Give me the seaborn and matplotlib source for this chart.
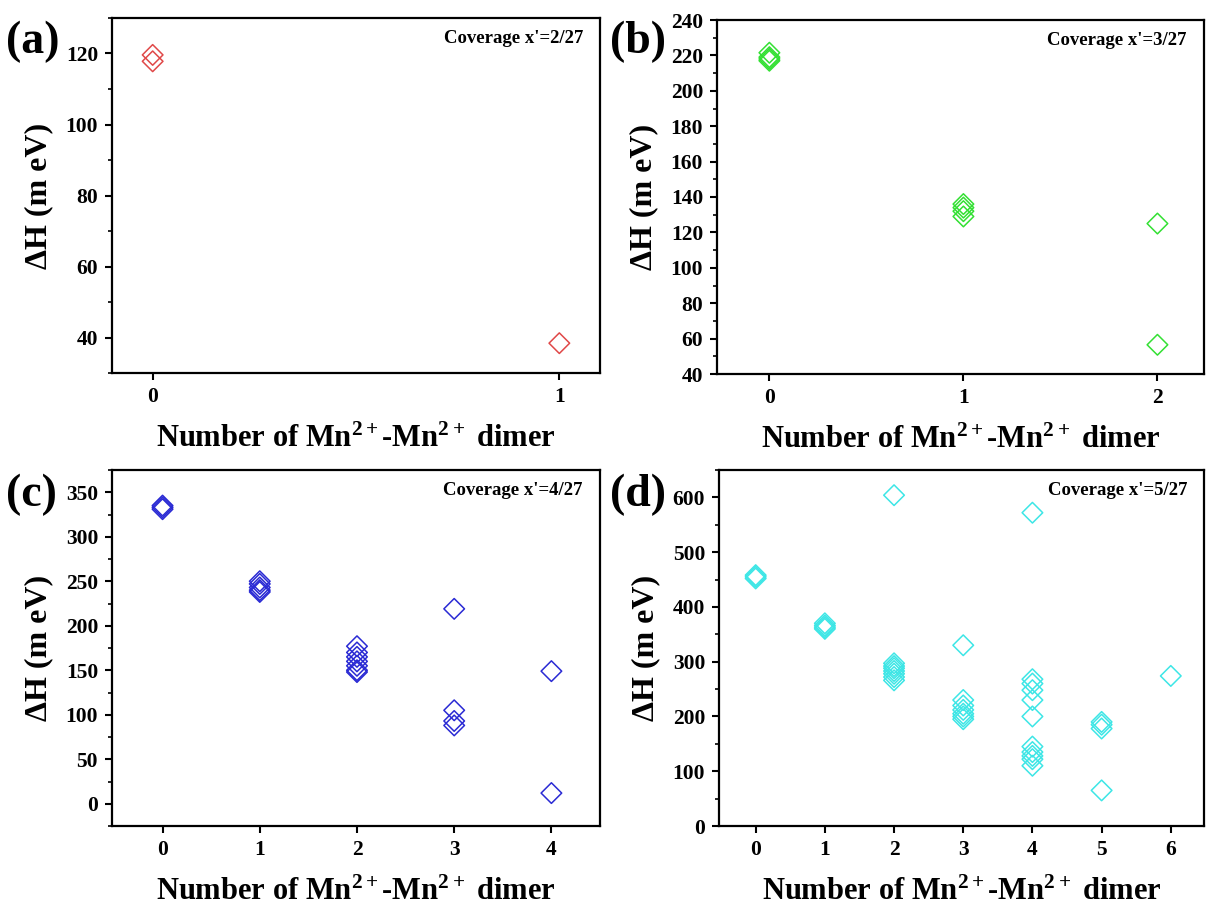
import matplotlib
matplotlib.use("Agg")
import matplotlib.pyplot as plt
import seaborn as sns
import pandas as pd
from matplotlib.ticker import MultipleLocator

# panel (a): coverage 2/27
dimer_a = [0, 0, 1]
dH_a = [117.8, 119.6, 38.4]

# panel (b): coverage 3/27
dimer_b = [0, 0, 0, 0, 1, 1, 1, 1, 2, 2]
dH_b = [221.5, 219, 218, 217, 136, 134, 132, 129, 125, 56.5]

# panel (c): coverage 4/27
dimer_c = [0, 0, 0,
           1, 1, 1, 1, 1,
           2, 2, 2, 2, 2, 2, 2,
           3, 3, 3, 3,
           4, 4]
dH_c = [335, 333, 331,
        250, 247, 243, 240, 238,
        177, 170, 165, 160, 155, 150, 148,
        219, 105, 93, 88,
        149, 12]

# panel (d): coverage 5/27
dimer_d = [0, 0, 0,
           1, 1, 1, 1,
           2, 2, 2, 2, 2, 2, 2, 2,
           3, 3, 3, 3, 3, 3, 3,
           4, 4, 4, 4, 4, 4, 4, 4, 4, 4, 4,
           5, 5, 5, 5,
           6]
dH_d = [458, 455, 452,
        370, 366, 363, 360,
        604, 297, 292, 288, 283, 278, 272, 266,
        330, 230, 220, 212, 205, 200, 195,
        572, 268, 260, 248, 230, 200, 145, 135, 128, 122, 110,
        190, 185, 178, 65,
        274]

panel_labels = ["(a)", "(b)", "(c)", "(d)"]
coverage_labels = ["Coverage x'=2/27", "Coverage x'=3/27",
                   "Coverage x'=4/27", "Coverage x'=5/27"]
colors = ["#e04848", "#33e033", "#2a2ad4", "#3de6e6"]

sns.set_style("ticks")
plt.rcParams['font.family'] = ['Liberation Serif', 'DejaVu Serif']
plt.rcParams['font.weight'] = 'bold'
plt.rcParams['axes.labelweight'] = 'bold'
plt.rcParams['text.color'] = 'black'
plt.rcParams['axes.labelcolor'] = 'black'
plt.rcParams['xtick.color'] = 'black'
plt.rcParams['ytick.color'] = 'black'
plt.rcParams['mathtext.fontset'] = 'custom'
plt.rcParams['mathtext.rm'] = 'Liberation Serif:bold'
plt.rcParams['mathtext.it'] = 'Liberation Serif:bold'
plt.rcParams['mathtext.bf'] = 'Liberation Serif:bold'

fig = plt.figure(figsize=(12.08, 9.06), dpi=100)
positions = [
    [112 / 1208, 1 - 373 / 906, 488 / 1208, 355 / 906],
    [717 / 1208, 1 - 374 / 906, 487 / 1208, 354 / 906],
    [112 / 1208, 1 - 826 / 906, 488 / 1208, 356 / 906],
    [719 / 1208, 1 - 826 / 906, 485 / 1208, 356 / 906],
]
datasets = [(dimer_a, dH_a), (dimer_b, dH_b), (dimer_c, dH_c), (dimer_d, dH_d)]
ylims = [(30, 130), (40, 240), (-25, 375), (0, 650)]
xlims = [(-0.1, 1.1), (-0.27, 2.24), (-0.52, 4.5), (-0.53, 6.48)]
ymajor = [20, 20, 50, 100]
yminor = [10, 10, 25, 50]
letter_pos = [(6, 42), (610, 42), (6, 495), (610, 495)]

for i, (xs, ys) in enumerate(datasets):
    ax = fig.add_axes(positions[i])
    df = pd.DataFrame({"dimer": xs, "dH": ys})
    sns.scatterplot(data=df, x="dimer", y="dH", ax=ax, marker="D", s=110,
                    facecolor="none", edgecolor=colors[i], linewidth=1.1)
    ax.set_xlim(*xlims[i])
    ax.set_ylim(*ylims[i])
    ax.xaxis.set_major_locator(MultipleLocator(1))
    ax.yaxis.set_major_locator(MultipleLocator(ymajor[i]))
    ax.yaxis.set_minor_locator(MultipleLocator(yminor[i]))
    ax.tick_params(axis="both", which="major", direction="out", length=5,
                   width=1.5, labelsize=15.5, pad=5)
    ax.tick_params(axis="y", which="minor", direction="out", length=3, width=1.2)
    ax.tick_params(top=False, right=False)
    for sp in ax.spines.values():
        sp.set_linewidth(1.6)
        sp.set_color("black")
    ax.set_xlabel("Number of Mn$^{2+}$-Mn$^{2+}$ dimer", fontsize=22, labelpad=13)
    ax.set_ylabel("ΔH (m eV)", fontsize=23, labelpad=9)
    ax.text(0.965, 0.965, coverage_labels[i], transform=ax.transAxes,
            ha="right", va="top", fontsize=13.5, fontweight="bold")
    fig.text(letter_pos[i][0] / 1208, 1 - letter_pos[i][1] / 906, panel_labels[i],
             ha="left", va="center", fontsize=33, fontweight="bold")

fig.savefig("out.png", dpi=100)
